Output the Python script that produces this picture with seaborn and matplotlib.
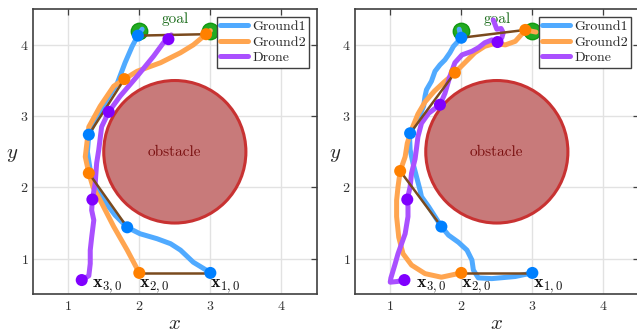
import matplotlib
matplotlib.use("Agg")
import matplotlib.pyplot as plt
import seaborn as sns
from matplotlib.patches import Circle
from matplotlib.lines import Line2D

# ---------------- data ----------------
# Left panel trajectories
g1_left_x = [3.00, 2.95, 2.76, 2.58, 2.44, 2.25, 2.01, 1.83, 1.66, 1.50, 1.38, 1.31, 1.27, 1.29, 1.40, 1.54, 1.69, 1.80, 1.90, 1.98, 2.04]
g1_left_y = [0.80, 0.835, 0.95, 1.12, 1.21, 1.28, 1.35, 1.44, 1.61, 1.82, 2.01, 2.24, 2.50, 2.74, 2.99, 3.23, 3.46, 3.75, 3.98, 4.13, 4.22]
g2_left_x = [2.00, 1.83, 1.64, 1.45, 1.35, 1.29, 1.24, 1.29, 1.45, 1.64, 1.79, 1.97, 2.30, 2.58, 2.76, 2.94, 3.00]
g2_left_y = [0.80, 1.12, 1.45, 1.82, 2.00, 2.20, 2.43, 2.85, 3.14, 3.42, 3.52, 3.63, 3.75, 3.89, 4.00, 4.15, 4.20]
dr_left_x = [1.19, 1.29, 1.31, 1.31, 1.33, 1.36, 1.33, 1.34, 1.38, 1.40, 1.43, 1.47, 1.57, 1.73, 1.97, 2.20, 2.34, 2.41, 2.45]
dr_left_y = [0.70, 0.76, 0.93, 1.12, 1.30, 1.54, 1.68, 1.83, 2.06, 2.34, 2.53, 2.85, 3.06, 3.28, 3.56, 3.84, 4.03, 4.08, 4.14]
# Left panel sampled positions (markers)
g1_left_mx = [3.00, 1.83, 1.29, 1.98]
g1_left_my = [0.80, 1.44, 2.74, 4.13]
g2_left_mx = [2.00, 1.29, 1.79, 2.94]
g2_left_my = [0.80, 2.20, 3.52, 4.15]
dr_left_mx = [1.19, 1.34, 1.57, 2.41]
dr_left_my = [0.70, 1.83, 3.06, 4.08]

# Right panel trajectories
g1_right_x = [3.00, 2.76, 2.43, 2.24, 2.17, 2.15, 2.08, 1.96, 1.82, 1.72, 1.63, 1.54, 1.44, 1.42, 1.37, 1.32, 1.28, 1.27,
              1.39, 1.47, 1.49, 1.51, 1.58, 1.63, 1.70, 1.77, 1.84, 1.89, 2.00, 1.97]
g1_right_y = [0.80, 0.75, 0.72, 0.73, 0.84, 0.98, 1.12, 1.23, 1.33, 1.45, 1.59, 1.73, 1.87, 1.96, 2.15, 2.34, 2.53, 2.76,
              2.95, 3.14, 3.28, 3.37, 3.49, 3.63, 3.72, 3.79, 3.89, 3.98, 4.10, 4.22]
g2_right_x = [2.00, 1.72, 1.49, 1.30, 1.18, 1.12, 1.09, 1.09, 1.11, 1.14, 1.21, 1.24, 1.30, 1.39, 1.49, 1.62, 1.76, 1.91,
              2.05, 2.19, 2.33, 2.47, 2.62, 2.76, 2.85, 2.90, 3.05]
g2_right_y = [0.80, 0.74, 0.79, 0.91, 1.07, 1.30, 1.59, 1.82, 2.01, 2.23, 2.43, 2.62, 2.81, 3.03, 3.20, 3.35, 3.48, 3.61,
              3.75, 3.89, 3.98, 4.02, 4.00, 4.05, 4.15, 4.21, 4.18]
dr_right_x = [1.20, 1.10, 1.00, 1.01, 1.07, 1.11, 1.16, 1.21, 1.25, 1.25, 1.24, 1.28, 1.30, 1.35, 1.37, 1.39, 1.44, 1.54,
              1.70, 1.77, 1.84, 1.91, 2.01, 2.15, 2.24, 2.33, 2.43, 2.51, 2.57, 2.59, 2.56, 2.50, 2.45]
dr_right_y = [0.70, 0.68, 0.67, 0.73, 0.93, 1.07, 1.21, 1.35, 1.59, 1.73, 1.83, 2.01, 2.20, 2.40, 2.55, 2.71, 2.90, 3.04,
              3.16, 3.32, 3.56, 3.75, 3.86, 3.91, 3.96, 4.03, 4.07, 4.04, 4.10, 4.17, 4.23, 4.22, 4.35]
# Right panel sampled positions (markers)
g1_right_mx = [3.00, 1.72, 1.28, 2.00]
g1_right_my = [0.80, 1.45, 2.76, 4.10]
g2_right_mx = [2.00, 1.14, 1.91, 2.90]
g2_right_my = [0.80, 2.23, 3.61, 4.21]
dr_right_mx = [1.20, 1.24, 1.70, 2.51]
dr_right_my = [0.70, 1.83, 3.16, 4.04]

goal_x = [2.0, 3.0]
goal_y = [4.2, 4.2]
obstacle_center = (2.5, 2.5)
obstacle_radius = 1.0
start_labels = [r"$\mathbf{x}_{1,0}$", r"$\mathbf{x}_{2,0}$", r"$\mathbf{x}_{3,0}$"]
start_label_x_left = [3.00, 2.00, 1.34]
start_label_x_right = [3.01, 2.00, 1.36]
start_label_y = 0.60
series_names = ["Ground1", "Ground2", "Drone"]
ticks = [1, 2, 3, 4]

# ---------------- style ----------------
sns.set_theme(style="whitegrid")
plt.rcParams['font.family'] = ['cmr10', 'DejaVu Serif']
plt.rcParams['mathtext.fontset'] = 'cm'
plt.rcParams['axes.formatter.use_mathtext'] = True

line_cols = ['#50aaff', '#ffa550', '#aa50ff']
mark_cols = ['#0080ff', '#ff8000', '#8000ff']
brown = '#7a4a1e'
spine_col = '#404040'

fig = plt.figure(figsize=(6.37, 3.33), dpi=100)
axL = fig.add_axes([0.0513, 0.1162, 0.4463, 0.856])
axR = fig.add_axes([0.5568, 0.1162, 0.4463, 0.856])


def panel(ax, trajs, marks, label_x, ylab_x):
    ax.set_facecolor('white')
    ax.set_xlim(0.5, 4.5)
    ax.set_ylim(0.5, 4.5)
    ax.set_xticks(ticks)
    ax.set_yticks(ticks)
    ax.grid(True, color='#e2e2e2', lw=1.0)
    ax.set_axisbelow(True)
    for s in ax.spines.values():
        s.set_color(spine_col)
        s.set_linewidth(1.2)
    ax.tick_params(direction='in', top=True, right=True, length=4, width=0.9,
                   color=spine_col, labelcolor='#333333', labelsize=10)
    ax.tick_params(axis='x', pad=4)
    ax.tick_params(axis='y', pad=3)

    ax.add_patch(Circle(obstacle_center, obstacle_radius, facecolor='#c87a7a',
                        edgecolor='#c83232', lw=2.2, zorder=1))
    ax.text(obstacle_center[0], obstacle_center[1], 'obstacle', color='#7a1010',
            fontsize=11, ha='center', va='center', zorder=2)

    sns.scatterplot(x=goal_x, y=goal_y, s=140, color='#22aa22', edgecolor='#119911',
                    linewidth=1.0, ax=ax, zorder=3, legend=False)
    ax.text(2.5, 4.36, 'goal', color='#1e6e1e', fontsize=11, ha='center', va='center', zorder=3)

    for (tx, ty), c, name in zip(trajs, line_cols, series_names):
        sns.lineplot(x=tx, y=ty, sort=False, estimator=None, color=c, lw=3.6,
                     ax=ax, zorder=4, legend=False)
        ax.lines[-1].set_solid_capstyle('round')
        ax.lines[-1].set_solid_joinstyle('round')

    (g1mx, g1my), (g2mx, g2my), _ = marks
    for a, b, c, d in zip(g1mx, g1my, g2mx, g2my):
        sns.lineplot(x=[a, c], y=[b, d], sort=False, estimator=None, color=brown,
                     lw=1.8, ax=ax, zorder=5, legend=False)

    for (mx, my), c in zip(marks, mark_cols):
        sns.scatterplot(x=mx, y=my, s=75, color=c, edgecolor='none', ax=ax,
                        zorder=6, legend=False)

    for lab, lx in zip(start_labels, label_x):
        ax.text(lx, start_label_y, lab, fontsize=13, ha='left', va='baseline',
                color='#111111', zorder=7)

    ax.set_xlabel('$x$', fontsize=15)
    ax.set_ylabel('$y$', fontsize=15, rotation=0)
    ax.xaxis.label.set_va('center')
    ax.yaxis.label.set_va('center')
    ax.yaxis.label.set_ha('center')
    ax.xaxis.set_label_coords(0.5, -0.106)
    ax.yaxis.set_label_coords(ylab_x, 0.489)

    handles = [Line2D([0], [0], color=c, lw=3.6) for c in line_cols]
    leg = ax.legend(handles, series_names, loc='upper right', fontsize=10,
                    frameon=True, fancybox=False, framealpha=1, edgecolor=spine_col,
                    borderaxespad=0.55, handlelength=2.0, handletextpad=0.3,
                    borderpad=0.25, labelspacing=0.2)
    leg.get_frame().set_linewidth(1.0)
    leg.set_zorder(10)


panel(axL,
      [(g1_left_x, g1_left_y), (g2_left_x, g2_left_y), (dr_left_x, dr_left_y)],
      [(g1_left_mx, g1_left_my), (g2_left_mx, g2_left_my), (dr_left_mx, dr_left_my)],
      start_label_x_left, -0.073)
panel(axR,
      [(g1_right_x, g1_right_y), (g2_right_x, g2_right_y), (dr_right_x, dr_right_y)],
      [(g1_right_mx, g1_right_my), (g2_right_mx, g2_right_my), (dr_right_mx, dr_right_my)],
      start_label_x_right, -0.069)

fig.savefig('out.png', dpi=100, facecolor='white')
